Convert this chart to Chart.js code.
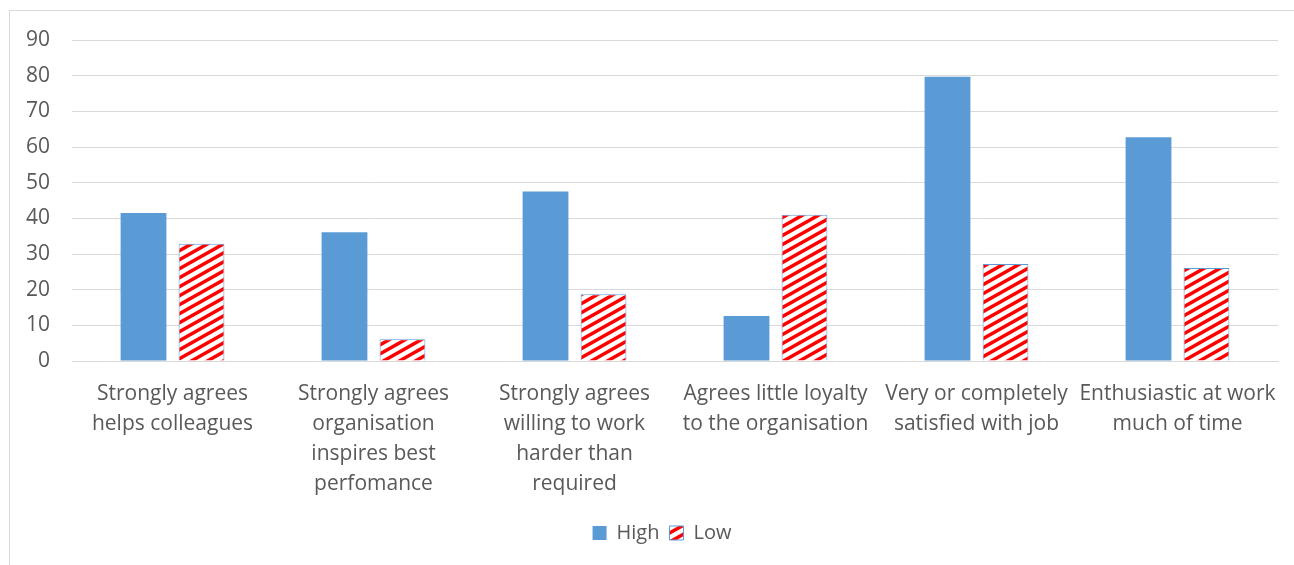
<!DOCTYPE html>
<html lang="en">
<head>
    <meta charset="UTF-8">
    <title>High vs Low</title>
    <style>
        body {
            margin: 0;
            background: #fff;
            overflow: hidden;
        }
        .box {
            position: absolute;
            left: 9px;
            top: 10px;
            width: 1284px;
            height: 554px;
            border-left: 1px solid #d9d9d9;
            border-top: 1px solid #d9d9d9;
        }
    </style>
</head>
<body>
    <div class="box"><canvas id="chart"></canvas></div>

    <script src="https://cdn.jsdelivr.net/npm/chart.js"></script>
    <script>
        const categories = [
            ['Strongly agrees', 'helps colleagues'],
            ['Strongly agrees', 'organisation', 'inspires best', 'perfomance'],
            ['Strongly agrees', 'willing to work', 'harder than', 'required'],
            ['Agrees little loyalty', 'to the organisation'],
            ['Very or completely', 'satisfied with job'],
            ['Enthusiastic at work', 'much of time']
        ];
        const highValues = [41.5, 36.1, 47.5, 12.6, 79.7, 62.7];
        const lowValues = [32.9, 6.1, 18.7, 41.0, 27.2, 26.1];

        // red upward diagonal stripes on white
        function makeStripes() {
            const w = 16, h = 9, t = 4;
            const c = document.createElement('canvas');
            c.width = w;
            c.height = h;
            const g = c.getContext('2d');
            g.fillStyle = '#fff';
            g.fillRect(0, 0, w, h);
            g.fillStyle = '#ff0000';
            [-h, 0].forEach(function (dy) {
                g.beginPath();
                g.moveTo(0, h + dy);
                g.lineTo(w, dy);
                g.lineTo(w, dy + t);
                g.lineTo(0, h + dy + t);
                g.closePath();
                g.fill();
            });
            return g.createPattern(c, 'repeat');
        }

        const textColor = '#595959';
        const gridColor = '#d9d9d9';

        // nudge legend a bit right, like the original
        const legendShift = {
            id: 'legendShift',
            afterLayout: function (chart) {
                if (chart.legend) chart.legend.left += 36;
            }
        };

        new Chart(document.getElementById('chart'), {
            type: 'bar',
            data: {
                labels: categories,
                datasets: [{
                    label: 'High',
                    data: highValues,
                    backgroundColor: '#5b9bd5',
                    borderWidth: 0
                }, {
                    label: 'Low',
                    data: lowValues,
                    backgroundColor: makeStripes(),
                    borderColor: '#5b9bd5',
                    borderWidth: 1
                }]
            },
            plugins: [legendShift],
            options: {
                responsive: true,
                maintainAspectRatio: false,
                animation: false,
                categoryPercentage: 0.577,
                barPercentage: 0.79,
                layout: {
                    padding: { top: 29, right: 16, left: 0, bottom: 12 }
                },
                plugins: {
                    legend: {
                        position: 'bottom',
                        labels: {
                            color: textColor,
                            font: { family: 'Open Sans', size: 20 },
                            boxWidth: 14,
                            boxHeight: 14,
                            padding: 10
                        }
                    },
                    tooltip: { enabled: false }
                },
                scales: {
                    x: {
                        grid: { display: false },
                        border: { color: gridColor, width: 1 },
                        ticks: {
                            color: textColor,
                            maxRotation: 0,
                            autoSkip: false,
                            padding: 10,
                            font: { family: 'Open Sans', size: 21, lineHeight: 1.43 }
                        },
                        afterFit: function (scale) { scale.height = 152; }
                    },
                    y: {
                        min: 0,
                        max: 90,
                        ticks: {
                            stepSize: 10,
                            color: textColor,
                            padding: 0,
                            font: { family: 'Open Sans', size: 21 }
                        },
                        grid: {
                            color: gridColor,
                            lineWidth: 1,
                            drawTicks: true,
                            tickLength: 22,
                            tickColor: 'rgba(0,0,0,0)'
                        },
                        border: { display: false },
                        afterFit: function (scale) { scale.width = 62; }
                    }
                }
            }
        });
    </script>
</body>
</html>
